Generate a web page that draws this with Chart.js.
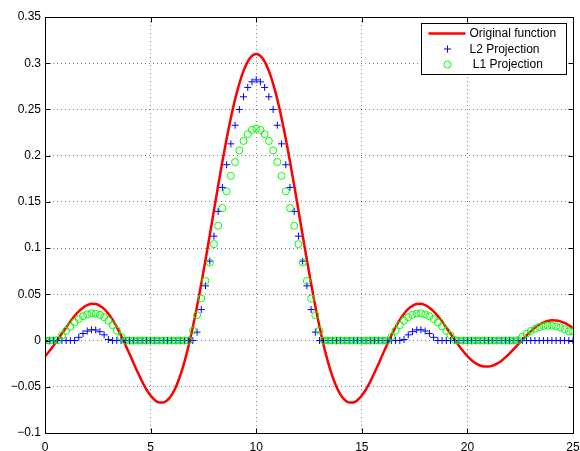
<!DOCTYPE html>
<html>
<head>
<meta charset="utf-8">
<script src="https://cdn.jsdelivr.net/npm/chart.js@4.4.0/dist/chart.umd.min.js"></script>
<style>
  html, body { margin: 0; background: #fff; }
  canvas { display: block; }
</style>
</head>
<body>
<canvas id="chart" width="580" height="451"></canvas>
<script>
// sample positions along x
const xs = [
  0, 0.2, 0.4, 0.6, 0.8, 1, 1.2, 1.4, 1.6, 1.8,
  2, 2.2, 2.4, 2.6, 2.8, 3, 3.2, 3.4, 3.6, 3.8,
  4, 4.2, 4.4, 4.6, 4.8, 5, 5.2, 5.4, 5.6, 5.8,
  6, 6.2, 6.4, 6.6, 6.8, 7, 7.2, 7.4, 7.6, 7.8,
  8, 8.2, 8.4, 8.6, 8.8, 9, 9.2, 9.4, 9.6, 9.8,
  10, 10.2, 10.4, 10.6, 10.8, 11, 11.2, 11.4, 11.6, 11.8,
  12, 12.2, 12.4, 12.6, 12.8, 13, 13.2, 13.4, 13.6, 13.8,
  14, 14.2, 14.4, 14.6, 14.8, 15, 15.2, 15.4, 15.6, 15.8,
  16, 16.2, 16.4, 16.6, 16.8, 17, 17.2, 17.4, 17.6, 17.8,
  18, 18.2, 18.4, 18.6, 18.8, 19, 19.2, 19.4, 19.6, 19.8,
  20, 20.2, 20.4, 20.6, 20.8, 21, 21.2, 21.4, 21.6, 21.8,
  22, 22.2, 22.4, 22.6, 22.8, 23, 23.2, 23.4, 23.6, 23.8,
  24, 24.2, 24.4, 24.6, 24.8, 25
];

const original = [
  -0.0169, -0.0116, -0.0056, 0.0008, 0.0075, 0.0142, 0.0206, 0.0265, 0.0315, 0.0356,
  0.0383, 0.0397, 0.0395, 0.0376, 0.0342, 0.0291, 0.0225, 0.0146, 0.0056, -0.0042,
  -0.0144, -0.0248, -0.0349, -0.0444, -0.0527, -0.0595, -0.0643, -0.0670, -0.0670, -0.0643,
  -0.0587, -0.0499, -0.0381, -0.0233, -0.0056, 0.0146, 0.0371, 0.0615, 0.0872, 0.1139,
  0.1409, 0.1677, 0.1937, 0.2182, 0.2408, 0.2609, 0.2780, 0.2917, 0.3018, 0.3079,
  0.3100, 0.3079, 0.3018, 0.2917, 0.2780, 0.2609, 0.2408, 0.2182, 0.1937, 0.1677,
  0.1409, 0.1139, 0.0872, 0.0615, 0.0371, 0.0146, -0.0056, -0.0233, -0.0381, -0.0499,
  -0.0587, -0.0643, -0.0670, -0.0670, -0.0643, -0.0595, -0.0527, -0.0444, -0.0349, -0.0248,
  -0.0144, -0.0042, 0.0056, 0.0146, 0.0225, 0.0291, 0.0342, 0.0376, 0.0395, 0.0397,
  0.0383, 0.0356, 0.0315, 0.0265, 0.0206, 0.0142, 0.0075, 0.0008, -0.0056, -0.0116,
  -0.0169, -0.0213, -0.0247, -0.0270, -0.0281, -0.0282, -0.0271, -0.0250, -0.0220, -0.0182,
  -0.0139, -0.0091, -0.0041, 0.0008, 0.0056, 0.0100, 0.0139, 0.0171, 0.0196, 0.0212,
  0.0219, 0.0218, 0.0208, 0.0190, 0.0165, 0.0135
];

const l2Proj = [
  0, 0, 0, 0, 0, 0, 0, 0, 0.0035, 0.0076,
  0.0103, 0.0117, 0.0115, 0.0096, 0.0062, 0.0011, 0, 0, 0, 0,
  0, 0, 0, 0, 0, 0, 0, 0, 0, 0,
  0, 0, 0, 0, 0, 0, 0.0091, 0.0335, 0.0592, 0.0859,
  0.1129, 0.1397, 0.1657, 0.1902, 0.2128, 0.2329, 0.2500, 0.2637, 0.2738, 0.2799,
  0.2820, 0.2799, 0.2738, 0.2637, 0.2500, 0.2329, 0.2128, 0.1902, 0.1657, 0.1397,
  0.1129, 0.0859, 0.0592, 0.0335, 0.0091, 0, 0, 0, 0, 0,
  0, 0, 0, 0, 0, 0, 0, 0, 0, 0,
  0, 0, 0, 0, 0, 0.0011, 0.0062, 0.0096, 0.0115, 0.0117,
  0.0103, 0.0076, 0.0035, 0, 0, 0, 0, 0, 0, 0,
  0, 0, 0, 0, 0, 0, 0, 0, 0, 0,
  0, 0, 0, 0, 0, 0, 0, 0, 0, 0,
  0, 0, 0, 0, 0, 0
];

const l1Proj = [
  0, 0, 0, 0.0006, 0.0056, 0.0105, 0.0152, 0.0196, 0.0233, 0.0263,
  0.0283, 0.0294, 0.0292, 0.0278, 0.0253, 0.0215, 0.0167, 0.0108, 0.0041, 0,
  0, 0, 0, 0, 0, 0, 0, 0, 0, 0,
  0, 0, 0, 0, 0, 0.0108, 0.0275, 0.0455, 0.0645, 0.0843,
  0.1043, 0.1241, 0.1433, 0.1615, 0.1782, 0.1931, 0.2057, 0.2159, 0.2233, 0.2278,
  0.2294, 0.2278, 0.2233, 0.2159, 0.2057, 0.1931, 0.1782, 0.1615, 0.1433, 0.1241,
  0.1043, 0.0843, 0.0645, 0.0455, 0.0275, 0.0108, 0, 0, 0, 0,
  0, 0, 0, 0, 0, 0, 0, 0, 0, 0,
  0, 0, 0.0041, 0.0108, 0.0167, 0.0215, 0.0253, 0.0278, 0.0292, 0.0294,
  0.0283, 0.0263, 0.0233, 0.0196, 0.0152, 0.0105, 0.0056, 0.0006, 0, 0,
  0, 0, 0, 0, 0, 0, 0, 0, 0, 0,
  0, 0, 0.0006, 0.0041, 0.0074, 0.0103, 0.0127, 0.0145, 0.0157, 0.0162,
  0.0161, 0.0154, 0.0141, 0.0122, 0.0100, 0.0100
];

const xTicks      = [0, 5, 10, 15, 20, 25];
const xTickLabels = ['0', '5', '10', '15', '20', '25'];
const yTicks      = [-0.1, -0.05, 0, 0.05, 0.1, 0.15, 0.2, 0.25, 0.3, 0.35];
const yTickLabels = ['\u22120.1', '\u22120.05', '0', '0.05', '0.1', '0.15', '0.2', '0.25', '0.3', '0.35'];
const seriesLabels = ['Original function', 'L2 Projection', ' L1 Projection'];

const FONT = "'Liberation Sans', Arial, sans-serif";

const toPoints = ys => xs.map((x, i) => ({ x, y: ys[i] }));

// ── box, inward ticks and legend, matlab style ──────────────────────

const matlabFrame = {
  id: 'matlabFrame',
  afterDraw(chart) {
    const { ctx, chartArea: a, scales } = chart;
    const al = v => Math.round(v) + 0.5;
    const L = al(a.left), R = al(a.right), T = al(a.top), B = al(a.bottom);
    const tl = 5;

    ctx.save();
    ctx.strokeStyle = '#000';
    ctx.lineWidth = 1;
    ctx.setLineDash([]);
    ctx.strokeRect(L, T, R - L, B - T);

    ctx.beginPath();
    xTicks.forEach(v => {
      const px = al(scales.x.getPixelForValue(v));
      ctx.moveTo(px, B); ctx.lineTo(px, B - tl);
      ctx.moveTo(px, T); ctx.lineTo(px, T + tl);
    });
    yTicks.forEach(v => {
      const py = al(scales.y.getPixelForValue(v));
      ctx.moveTo(L, py); ctx.lineTo(L + tl, py);
      ctx.moveTo(R, py); ctx.lineTo(R - tl, py);
    });
    ctx.stroke();

    // legend
    const bw = 145, bh = 51;
    const bx = Math.round(a.right - 7 - bw) + 0.5;
    const by = Math.round(a.top + 6) + 0.5;
    ctx.fillStyle = '#fff';
    ctx.fillRect(bx, by, bw, bh);
    ctx.strokeRect(bx, by, bw, bh);

    ctx.font = '12px ' + FONT;
    ctx.textBaseline = 'middle';
    ctx.textAlign = 'left';
    chart.data.datasets.forEach((ds, i) => {
      const cy = by + 10 + i * 15.5;
      const mx = bx + 26;
      ctx.strokeStyle = ds.borderColor;
      if (ds.showLine === false) {
        ctx.lineWidth = 1;
        ctx.beginPath();
        if (ds.pointStyle === 'cross') {
          ctx.moveTo(mx - 3.5, cy); ctx.lineTo(mx + 3.5, cy);
          ctx.moveTo(mx, cy - 3.5); ctx.lineTo(mx, cy + 3.5);
        } else {
          ctx.arc(mx, cy, 3.5, 0, Math.PI * 2);
        }
        ctx.stroke();
      } else {
        ctx.lineWidth = ds.borderWidth;
        ctx.beginPath();
        ctx.moveTo(bx + 7, cy); ctx.lineTo(bx + 44, cy);
        ctx.stroke();
      }
      ctx.fillStyle = '#000';
      ctx.fillText(ds.label, bx + 48, cy + 0.5);
    });
    ctx.restore();
  }
};

new Chart(document.getElementById('chart'), {
  type: 'line',
  data: {
    datasets: [
      {
        label: seriesLabels[0],
        data: toPoints(original),
        borderColor: '#ff0000',
        borderWidth: 2.5,
        pointRadius: 0,
        cubicInterpolationMode: 'monotone',
        order: 3,
      },
      {
        label: seriesLabels[1],
        data: toPoints(l2Proj),
        showLine: false,
        borderColor: '#0000ff',
        backgroundColor: '#0000ff',
        pointStyle: 'cross',
        pointRadius: 3.5,
        pointBorderWidth: 1,
        order: 2,
      },
      {
        label: seriesLabels[2],
        data: toPoints(l1Proj),
        showLine: false,
        borderColor: '#00ff00',
        backgroundColor: 'rgba(0,0,0,0)',
        pointStyle: 'circle',
        pointRadius: 3.5,
        pointBorderWidth: 1,
        order: 1,
      },
    ]
  },
  options: {
    responsive: false,
    animation: false,
    devicePixelRatio: 1,
    layout: { padding: { top: 17, right: 7, left: 0, bottom: 0 } },
    plugins: { legend: { display: false }, tooltip: { enabled: false } },
    scales: {
      x: {
        type: 'linear',
        min: 0, max: 25,
        afterBuildTicks: s => { s.ticks = xTicks.map(v => ({ value: v })); },
        afterFit: s => { s.height = 18; s.paddingLeft = 0; s.paddingRight = 0; },
        ticks: {
          autoSkip: false, maxRotation: 0, padding: 7,
          color: '#000', font: { family: FONT, size: 12 },
          callback: (v, i) => xTickLabels[i],
        },
        grid: { color: 'rgba(0,0,0,0.5)', lineWidth: 1, drawTicks: false },
        border: { display: false, dash: [1, 3] },
      },
      y: {
        type: 'linear',
        min: -0.1, max: 0.35,
        afterBuildTicks: s => { s.ticks = yTicks.map(v => ({ value: v })); },
        afterFit: s => { s.width = 45; s.paddingTop = 0; s.paddingBottom = 0; },
        ticks: {
          autoSkip: false, padding: 4,
          color: '#000', font: { family: FONT, size: 12 },
          callback: (v, i) => yTickLabels[i],
        },
        grid: { color: 'rgba(0,0,0,0.5)', lineWidth: 1, drawTicks: false },
        border: { display: false, dash: [1, 3] },
      }
    }
  },
  plugins: [matlabFrame]
});
</script>
</body>
</html>
